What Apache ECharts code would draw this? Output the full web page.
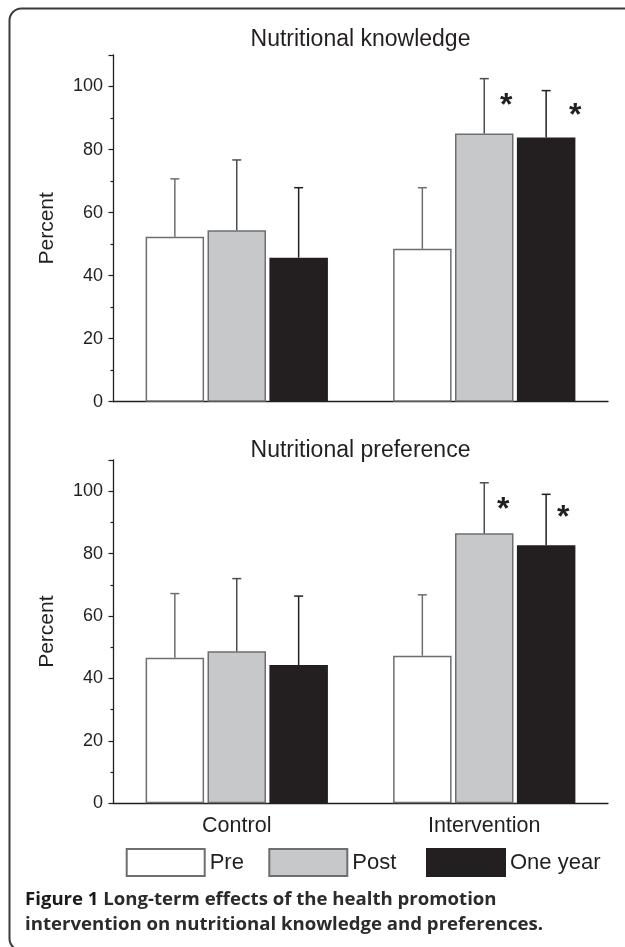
<!DOCTYPE html>
<html>
<head>
<meta charset="utf-8">
<script src="https://cdn.jsdelivr.net/npm/echarts@6/dist/echarts.min.js"></script>
<style>
  html, body { margin: 0; padding: 0; background: #ffffff; }
  #chart { width: 625px; height: 947px; }
</style>
</head>
<body>
<div id="chart"></div>
<script>
// ---------- data ----------
const categories = ['Control', 'Intervention'];
const seriesNames = ['Pre', 'Post', 'One year'];
const yTicks = [0, 20, 40, 60, 80, 100];

// Nutritional knowledge (mean, and top of SD error bar)
const knowPre = [52.3, 48.5];
const knowPost = [54.4, 85.1];
const knowYear = [45.7, 83.8];
const knowPreErr = [70.7, 67.9];
const knowPostErr = [76.7, 102.5];
const knowYearErr = [67.9, 98.7];

// Nutritional preference
const prefPre = [46.6, 47.3];
const prefPost = [48.7, 86.5];
const prefYear = [44.3, 82.7];
const prefPreErr = [67.2, 66.8];
const prefPostErr = [72.0, 102.7];
const prefYearErr = [66.4, 99.0];

// significance markers: [series index, category index, value]
const knowStars = [[1, 1, 95.7], [2, 1, 92.5]];
const prefStars = [[1, 1, 95.8], [2, 1, 93.3]];

const titles = ['Nutritional knowledge', 'Nutritional preference'];
const yName = 'Percent';
const captionBold = 'Figure 1';
const captionRest1 = ' Long-term effects of the health promotion';
const captionLine2 = 'intervention on nutritional knowledge and preferences.';

// ---------- styling ----------
const FONT = 'Liberation Sans, Arial, Helvetica, sans-serif';
const CAP_FONT = '"Open Sans", sans-serif';
const INK = '#231f20';
const fills = ['#ffffff', '#c7c8ca', '#231f20'];
const borders = ['#6d6e71', '#6d6e71', '#231f20'];
const errColors = ['#6d6e71', '#4d4d4f', '#231f20'];
const BAR_W = 58.5;
const BAR_GAP_PX = 3.4;
const STEP = BAR_W + BAR_GAP_PX;
const CAP = 4.5;
const STAR_DX = [[22, 29], [19, 17]];   // horizontal pixel offsets of the stars, per chart
const STAR_DY = 6;

const grids = [
  { left: 113, right: 17, top: 55, height: 346.7 },
  { left: 113, right: 17, top: 460, height: 343.3 }
];

function yAxis(gi) {
  return {
    type: 'value', gridIndex: gi, min: 0, max: 110, interval: 20,
    name: yName, nameLocation: 'middle', nameGap: 55,
    nameTextStyle: { fontSize: 21, fontFamily: FONT, color: INK },
    axisLine: { show: true, lineStyle: { color: INK, width: 1.3 } },
    axisTick: { show: true, length: 4.5, lineStyle: { color: INK, width: 1.2 } },
    minorTick: { show: true, splitNumber: 2, length: 2.5, lineStyle: { color: INK, width: 1.2 } },
    splitLine: { show: false },
    axisLabel: {
      fontSize: 18, fontFamily: FONT, color: INK, margin: 10,
      formatter: v => (yTicks.indexOf(v) >= 0 ? String(v) : '')
    }
  };
}

function xAxis(gi, showLabels) {
  return {
    type: 'category', gridIndex: gi, data: categories,
    axisLine: { show: true, lineStyle: { color: INK, width: 1.3 } },
    axisTick: { show: false },
    axisLabel: { show: showLabels, fontSize: 21.5, fontFamily: FONT, color: INK, margin: 12 }
  };
}

function barSeries(gi, name, idx, values) {
  return {
    type: 'bar', name: name, xAxisIndex: gi, yAxisIndex: gi,
    data: values, barWidth: BAR_W, barGap: (BAR_GAP_PX / BAR_W * 100).toFixed(2) + '%',
    barCategoryGap: '20%',
    itemStyle: { color: fills[idx], borderColor: borders[idx], borderWidth: 1.5 },
    emphasis: { disabled: true },
    z: 2
  };
}

function errSeries(gi, idx, values, tops) {
  const data = values.map((v, i) => [i, v, tops[i]]);
  return {
    type: 'custom', xAxisIndex: gi, yAxisIndex: gi, data: data, z: 3,
    silent: true,
    renderItem: function (params, api) {
      const base = api.coord([api.value(0), api.value(1)]);
      const top = api.coord([api.value(0), api.value(2)]);
      const x = base[0] + (idx - 1) * STEP;
      const style = { stroke: errColors[idx], lineWidth: 1.5 };
      return {
        type: 'group',
        children: [
          { type: 'line', shape: { x1: x, y1: base[1], x2: x, y2: top[1] }, style: style },
          { type: 'line', shape: { x1: x - CAP, y1: top[1], x2: x + CAP, y2: top[1] }, style: style }
        ]
      };
    }
  };
}

function starSeries(gi, stars) {
  return {
    type: 'custom', xAxisIndex: gi, yAxisIndex: gi, z: 4, silent: true,
    data: stars.map(s => [s[1], s[2], s[0]]),
    renderItem: function (params, api) {
      const p = api.coord([api.value(0), api.value(1)]);
      const x = p[0] + (api.value(2) - 1) * STEP + STAR_DX[gi][params.dataIndex];
      return {
        type: 'text',
        style: {
          x: x, y: p[1] + STAR_DY, text: '*', textAlign: 'center', textVerticalAlign: 'middle',
          font: 'bold 32px ' + FONT, fill: INK
        }
      };
    }
  };
}

const knowVals = [knowPre, knowPost, knowYear];
const knowErrs = [knowPreErr, knowPostErr, knowYearErr];
const prefVals = [prefPre, prefPost, prefYear];
const prefErrs = [prefPreErr, prefPostErr, prefYearErr];

const series = [];
[[knowVals, knowErrs, knowStars], [prefVals, prefErrs, prefStars]].forEach((set, gi) => {
  seriesNames.forEach((n, i) => series.push(barSeries(gi, n, i, set[0][i])));
  seriesNames.forEach((n, i) => series.push(errSeries(gi, i, set[0][i], set[1][i])));
  series.push(starSeries(gi, set[2]));
});

const legendCommon = {
  orient: 'horizontal', padding: 0, icon: 'rect', itemWidth: 78, itemHeight: 27,
  selectedMode: false,
  textStyle: { fontSize: 22, fontFamily: FONT, color: INK }
};
const legendLefts = [125.7, 268.3, 426];

const option = {
  backgroundColor: '#ffffff',
  animation: false,
  title: titles.map((t, i) => ({
    text: t, left: 360.5, textAlign: 'center', top: i === 0 ? 28 : 439, padding: 0,
    textStyle: { fontSize: 23, fontWeight: 'normal', fontFamily: FONT, color: INK }
  })),
  grid: grids,
  xAxis: [xAxis(0, false), xAxis(1, true)],
  yAxis: [yAxis(0), yAxis(1)],
  legend: seriesNames.map((n, i) => Object.assign({}, legendCommon, {
    data: [n], left: legendLefts[i], top: 848
  })),
  series: series,
  graphic: [
    {
      type: 'rect', silent: true, z: 10,
      shape: { x: 9.5, y: 8.5, width: 720, height: 942, r: 12 },
      style: { fill: 'none', stroke: '#3a3a3a', lineWidth: 2 }
    },
    {
      type: 'text', left: 25, top: 890, silent: true,
      style: {
        text: '{b|' + captionBold + '}{r|' + captionRest1 + '}',
        rich: {
          b: { font: 'bold 18.6px ' + CAP_FONT, fill: '#1a1a1a' },
          r: { font: 'bold 18.6px ' + CAP_FONT, fill: '#2b2b2b' }
        }
      }
    },
    {
      type: 'text', left: 25, top: 915, silent: true,
      style: { text: captionLine2, font: 'bold 18.6px ' + CAP_FONT, fill: '#2b2b2b' }
    }
  ]
};

const chart = echarts.init(document.getElementById('chart'), null, { renderer: 'canvas' });
chart.setOption(option);
</script>
</body>
</html>
